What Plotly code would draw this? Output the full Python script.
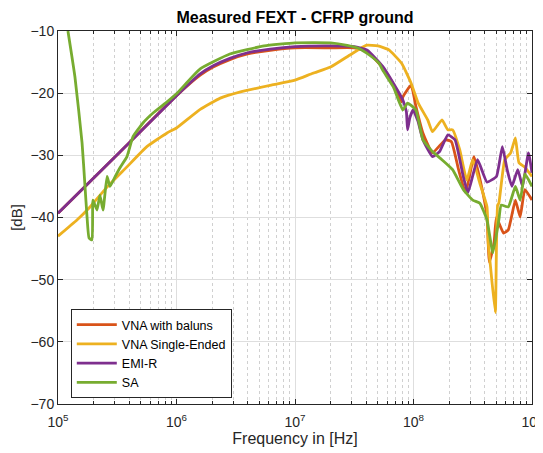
import plotly.graph_objects as go

# ---- data (frequency in Hz, level in dB) ----
f_baluns = [1e5, 3.16e5, 1e6, 1.585e6, 2.04e6, 2.82e6, 3.98e6, 6.17e6, 1e7, 2e7, 3.16e7, 4.07e7,
            5.5e7, 6.76e7, 7.94e7, 8.13e7, 9.55e7, 1.05e8, 1.2e8, 1.445e8, 1.86e8, 2.09e8, 2.4e8,
            2.75e8, 3.24e8, 3.8e8, 4.17e8, 4.37e8, 4.79e8, 5.01e8, 5.75e8, 6.31e8, 7.24e8, 7.94e8,
            8.71e8, 1e9]
db_baluns = [-39.3, -29.9, -20.4, -17.1, -15.8, -14.6, -13.7, -13.1, -12.7, -12.7, -12.7, -13.3,
             -15.9, -18.6, -21.4, -20.6, -18.7, -22.2, -26.4, -29.6, -27.5, -27.8, -32.3,
             -36.0, -30.2, -35.5, -39.9, -47.2, -44.0, -40.0, -42.5, -42.0, -37.2, -39.9,
             -35.5, -37.2]

f_single = [1e5, 1.445e5, 1.862e5, 2.57e5, 3.8e5, 5.62e5, 8.32e5, 1e6, 1.585e6, 2.34e6, 3.47e6,
            6.31e6, 1e7, 1.413e7, 1.995e7, 2.884e7, 3.98e7, 5.01e7, 6.17e7, 7.94e7, 9.55e7,
            1.096e8, 1.318e8, 1.445e8, 1.738e8, 1.95e8, 2.138e8, 2.455e8, 2.818e8, 3.162e8,
            3.63e8, 4.17e8, 4.27e8, 4.47e8, 4.9e8, 5.01e8, 5.13e8, 5.25e8, 5.89e8, 6.61e8,
            7.24e8, 7.76e8, 8.71e8, 1e9]
db_single = [-43.0, -40.4, -38.3, -35.2, -31.9, -28.6, -26.4, -25.6, -22.6, -20.8, -19.8,
             -18.7, -17.9, -16.8, -15.8, -13.9, -12.3, -12.4, -13.0, -15.2, -18.4,
             -21.6, -24.3, -26.2, -24.3, -25.9, -25.9, -29.1, -34.0, -30.7,
             -34.5, -38.3, -44.0, -48.0, -55.3, -45.0, -38.0, -37.7, -30.7, -29.6,
             -27.2, -31.2, -31.9, -33.4]

f_emir = [1e5, 3.16e5, 1e6, 1.585e6, 2.04e6, 2.82e6, 3.98e6, 6.17e6, 1e7, 2e7, 3.16e7, 4.07e7,
          5.5e7, 6.76e7, 8.13e7, 8.71e7, 8.91e7, 9.3e7, 9.93e7, 1.09e8, 1.2e8, 1.445e8, 1.66e8,
          1.95e8, 2.24e8, 2.63e8, 2.88e8, 3.47e8, 4.17e8, 5.01e8, 5.62e8, 6.17e8, 6.76e8,
          7.59e8, 8.32e8, 9.33e8, 1e9]
db_emir = [-39.3, -29.9, -20.4, -16.9, -15.6, -14.4, -13.5, -12.9, -12.5, -12.4, -12.5, -13.1,
           -15.7, -18.4, -21.1, -23.0, -25.9, -24.0, -22.7, -24.5, -27.5, -30.2, -29.4,
           -26.7, -27.5, -33.4, -36.0, -30.7, -34.3, -33.4, -28.6, -32.3, -35.0,
           -32.3, -35.0, -29.6, -32.8]

f_sa = [1.213e5, 1.39e5, 1.596e5, 1.69e5, 1.758e5, 1.828e5, 1.936e5, 1.972e5, 2.133e5, 2.259e5,
        2.399e5, 2.594e5, 2.748e5, 3.02e5, 3.334e5, 3.819e5, 4.295e5, 5.212e5, 6.339e5, 8.318e5,
        1e6, 1.585e6, 2.818e6, 5.495e6, 1e7, 2e7, 2.754e7, 3.467e7, 4.266e7, 5.129e7, 5.495e7,
        6.761e7, 8.128e7, 8.913e7, 1.047e8, 1.202e8, 1.445e8, 1.738e8, 2.138e8, 2.63e8,
        3.162e8, 3.631e8, 4.169e8, 4.677e8, 5.248e8, 5.495e8, 6.31e8, 7.244e8, 7.943e8,
        8.71e8, 1e9]
db_sa = [-10.0, -17.4, -28.0, -35.0, -39.9, -43.3, -43.6, -37.2, -38.8, -36.4,
         -38.8, -33.4, -35.0, -33.5, -32.0, -30.2, -27.0, -24.8, -23.2, -21.4,
         -20.1, -16.1, -13.7, -12.4, -11.9, -11.9, -12.3, -12.8, -13.9, -15.2, -16.3,
         -19.0, -22.7, -21.6, -22.7, -27.5, -29.4, -30.7, -32.3, -35.5,
         -37.2, -37.7, -40.4, -45.7, -40.4, -38.0, -38.3, -35.0, -37.2,
         -33.0, -35.0]

series = [
    ("VNA with baluns", f_baluns, db_baluns, "#D95319"),
    ("VNA Single-Ended", f_single, db_single, "#EDB120"),
    ("EMI-R", f_emir, db_emir, "#7E2F8E"),
    ("SA", f_sa, db_sa, "#77AC30"),
]

x_ticks = [1e5, 1e6, 1e7, 1e8, 1e9]
x_ticktext = ["10<sup>5</sup>", "10<sup>6</sup>", "10<sup>7</sup>", "10<sup>8</sup>", "10<sup>9</sup>"]
x_minor = [m * d for d in (1e5, 1e6, 1e7, 1e8) for m in range(2, 10)]
y_ticks = [-70, -60, -50, -40, -30, -20, -10]

fig = go.Figure()
for name, f, db, col in series:
    fig.add_trace(go.Scatter(x=f, y=db, mode="lines", name=name,
                             line=dict(color=col, width=2.8, shape="spline", smoothing=0.4)))

axis_common = dict(showline=True, linecolor="#262626", linewidth=1, mirror="ticks",
                   ticks="inside", ticklen=5, tickcolor="#262626", showgrid=True,
                   gridcolor="#DEDEDE", gridwidth=1, zeroline=False, automargin=False,
                   tickfont=dict(size=14, color="#262626", family="Liberation Sans, Arial"))

# page body has an 8px margin, so the figure is 8px smaller than the window
fig.update_layout(
    width=535, height=445,
    margin=dict(l=50, r=11, t=23, b=49, autoexpand=False),
    paper_bgcolor="white", plot_bgcolor="white",
    font=dict(family="Liberation Sans, Arial", color="#262626"),
    title=dict(text="<b>Measured FEXT - CFRP ground</b>", x=0.5, xref="paper",
               y=1 - 9 / 445, yanchor="middle", font=dict(size=16, color="black")),
    xaxis=dict(type="log", range=[5, 9], tickvals=x_ticks, ticktext=x_ticktext,
               ticklabelstandoff=5,
               title=dict(text="Frequency in [Hz]", font=dict(size=16), standoff=2),
               minor=dict(tickmode="array", tickvals=x_minor, showgrid=True, griddash="dot",
                          gridcolor="#D0D0D0", ticks="inside", ticklen=3, tickcolor="#262626"),
               **axis_common),
    yaxis=dict(range=[-70, -10], tickvals=y_ticks,
               title=dict(text="[dB]", font=dict(size=15), standoff=6),
               **axis_common),
    legend=dict(x=0.027, y=0.016, xanchor="left", yanchor="bottom",
                bgcolor="white", bordercolor="#262626", borderwidth=1,
                font=dict(size=12.5, color="black"), tracegroupgap=0,
                itemwidth=40),
    showlegend=True,
)

fig.write_html("out.html")
